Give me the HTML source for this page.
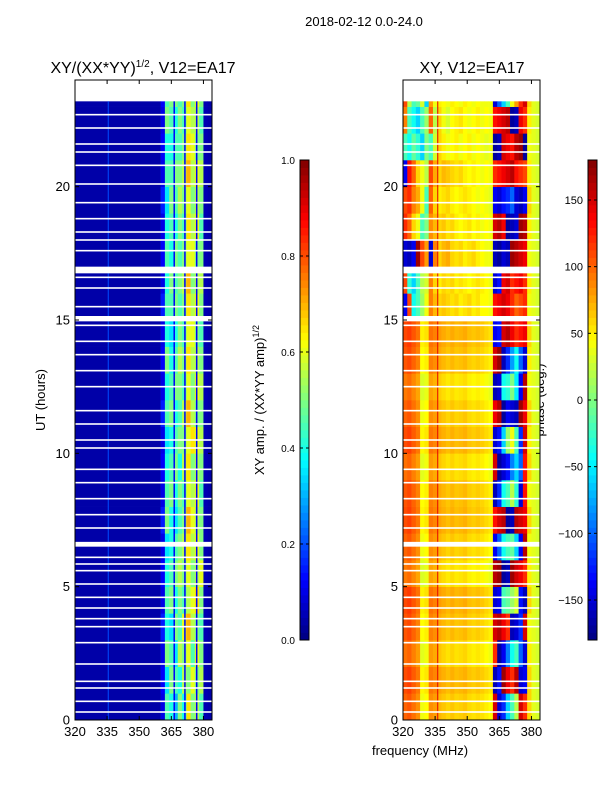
<!DOCTYPE html>
<html><head><meta charset="utf-8"><style>
body{margin:0;background:#fff;}
svg{display:block;font-family:"Liberation Sans",sans-serif;}
</style></head><body>
<svg id="c" width="600" height="800" xmlns="http://www.w3.org/2000/svg">
<text x="364" y="26" font-size="13" text-anchor="middle">2018-02-12 0.0-24.0</text>
<text x="143" y="73" font-size="16" text-anchor="middle">XY/(XX*YY)<tspan font-size="10" dy="-6">1/2</tspan><tspan dy="6">, V12=EA17</tspan></text>
<text x="472" y="73" font-size="16" text-anchor="middle">XY, V12=EA17</text>
<text x="420" y="755" font-size="13" text-anchor="middle">frequency (MHz)</text>
<text x="45" y="400" font-size="13" text-anchor="middle" transform="rotate(-90 45 400)">UT (hours)</text>
<text x="264" y="400" font-size="13" text-anchor="middle" transform="rotate(-90 264 400)">XY amp. / (XX*YY amp)<tspan font-size="9" dy="-5">1/2</tspan></text>
<text x="544" y="400" font-size="13" text-anchor="middle" transform="rotate(-90 544 400)">phase (deg.)</text>
<g id="amp"></g>
<g id="ph"></g>
<g id="ax"></g>
</svg>
<script>
const freqTicks=[320,335,350,365,380];
const hourTicks=[0,5,10,15,20];
const ampTicks=[0.0,0.2,0.4,0.6,0.8,1.0];
const phaseTicks=[-150,-100,-50,0,50,100,150];
const bandFreqs=[360,362,364,366,368,370,372,374,376,378,380,382];
const ampBackground=0.04;
const ampBand=[
[0.1,0.45,0.4,0.3,0.5,0.4,0.65,0.5,0.55,0.45,0.05,0.04],
[0.12,0.35,0.5,0.45,0.4,0.55,0.5,0.6,0.5,0.55,0.05,0.04],
[0.1,0.5,0.45,0.35,0.55,0.5,0.6,0.45,0.6,0.5,0.05,0.04],
[0.15,0.4,0.35,0.5,0.45,0.6,0.7,0.55,0.5,0.45,0.05,0.04],
[0.1,0.45,0.5,0.4,0.5,0.45,0.55,0.6,0.65,0.5,0.05,0.04],
[0.12,0.4,0.45,0.5,0.55,0.5,0.6,0.5,0.55,0.6,0.05,0.04],
[0.1,0.35,0.4,0.45,0.5,0.55,0.65,0.55,0.6,0.5,0.05,0.04],
[0.15,0.5,0.4,0.35,0.45,0.5,0.7,0.6,0.55,0.5,0.05,0.04],
[0.1,0.45,0.5,0.4,0.5,0.45,0.6,0.55,0.6,0.45,0.05,0.04],
[0.12,0.4,0.45,0.5,0.4,0.55,0.65,0.5,0.55,0.5,0.05,0.04],
[0.1,0.35,0.4,0.45,0.5,0.5,0.6,0.65,0.6,0.55,0.05,0.04],
[0.15,0.45,0.5,0.4,0.45,0.55,0.7,0.55,0.5,0.5,0.05,0.04],
[0.1,0.4,0.45,0.5,0.5,0.45,0.6,0.5,0.6,0.55,0.05,0.04],
[0.12,0.5,0.4,0.45,0.55,0.5,0.65,0.55,0.55,0.5,0.05,0.04],
[0.1,0.4,0.35,0.4,0.5,0.45,0.6,0.6,0.5,0.45,0.05,0.04],
[0.15,0.45,0.45,0.5,0.45,0.5,0.65,0.55,0.6,0.5,0.05,0.04],
[0.1,0.4,0.5,0.45,0.5,0.55,0.7,0.5,0.55,0.55,0.05,0.04],
[0.12,0.45,0.4,0.5,0.45,0.5,0.6,0.6,0.5,0.5,0.05,0.04],
[0.1,0.4,0.45,0.4,0.5,0.45,0.65,0.55,0.6,0.45,0.05,0.04],
[0.15,0.35,0.5,0.45,0.55,0.5,0.6,0.5,0.55,0.5,0.05,0.04],
[0.1,0.45,0.45,0.5,0.5,0.55,0.7,0.55,0.6,0.55,0.05,0.04],
[0.12,0.4,0.4,0.45,0.45,0.5,0.65,0.6,0.5,0.5,0.05,0.04],
[0.1,0.5,0.45,0.4,0.5,0.45,0.6,0.55,0.55,0.45,0.05,0.04],
[0.12,0.45,0.5,0.5,0.45,0.5,0.65,0.5,0.6,0.5,0.05,0.04]];
const phaseFreqs=[320,322,324,326,328,330,332,334,336,338,340,342,344,346,348,350,352,354,356,358,360,362,364,366,368,370,372,374,376,378,380,382];
const phaseLowProfile=[100,105,95,85,40,45,85,80,70,65,60,65,60,62,65,58,55,58,55,50,45];
const phaseLowShift=[0,8,-5,5,10,-8,0,8,5,-5,8,0,-8,5,10];
const phaseTopLeft=[
[-140,110,-40,-20,10,40,90,70,60,65,60,55,60,50,55,60,50,55,45,45,40],
[110,-30,-60,-20,20,30,90,60,50,60,55,60,50,55,50,45,50,55,50,45,40],
[-150,-160,-140,170,110,80,-150,90,60,70,75,60,55,60,50,55,60,50,45,40,40],
[120,100,60,40,-20,0,85,70,60,65,55,60,50,45,50,55,45,50,40,45,40],
[110,120,90,75,40,-20,100,60,50,55,60,50,45,50,55,50,45,40,45,40,35],
[-140,130,100,60,40,20,110,75,60,70,65,60,55,60,50,45,50,45,40,45,40],
[-20,-40,-10,-30,-60,0,-20,30,60,50,40,45,50,40,45,50,40,45,40,35,40],
[90,-20,-40,-60,-20,10,100,20,60,40,30,45,50,55,45,40,45,50,40,45,40],
[110,20,-20,-10,30,-60,80,40,50,45,40,50,45,40,50,45,40,45,40,40,40]];
const phaseTail=[35,30];
const phaseBand=[
[150,-150,-120,-60,-20,20,150,120,60],
[-160,-130,170,140,120,160,-150,-140,60],
[120,-170,-140,-90,-40,-20,-100,-150,50],
[150,160,140,120,-160,-150,-120,150,40],
[-150,-140,-20,-10,10,30,-130,-160,60],
[160,170,-170,-160,170,150,140,120,50],
[-140,-100,-40,-20,-10,-60,-140,160,40],
[130,150,160,-170,-160,160,150,140,60],
[-160,-120,-40,-20,20,-30,-150,130,40],
[150,-170,-150,-130,-90,-60,-100,130,60],
[-150,-130,-60,10,40,-20,-120,150,50],
[140,160,-170,-140,-150,-160,170,140,60],
[-160,-150,-40,-30,0,-50,-140,160,40],
[150,170,-160,-120,-80,-40,-100,-150,50],
[-140,-130,150,160,140,120,130,140,60],
[130,140,150,140,120,100,110,120,40],
[-150,-130,140,150,120,130,140,120,50],
[-160,-170,-150,-160,170,160,150,140,40],
[150,160,140,-170,-160,-150,170,160,50],
[-140,-150,-130,-120,-100,-150,-160,-140,60],
[120,130,140,150,160,130,120,110,50],
[-170,-160,150,140,130,160,170,-170,40],
[130,140,150,160,-170,-160,140,120,50],
[-150,-100,-60,-20,40,80,120,150,60]];
const dataEndHour=23.2;
const gapHours=[0.3,0.7,1.2,1.45,2.1,2.9,3.5,3.8,4.2,4.6,5.1,5.6,5.85,6.1,7.2,7.7,8.3,8.9,9.4,10.2,10.5,11.1,11.6,12.5,13.1,13.7,14.2,14.8,15.5,16.2,16.6,17.6,18.0,18.3,18.8,19.4,20.1,20.8,21.3,21.6,22.2,22.7];
const wideGaps=[[6.5,6.68],[14.95,15.15],[16.75,17.0]];

const NS="http://www.w3.org/2000/svg";
function jet(t){t=Math.max(0,Math.min(1,t));const c=v=>Math.round(255*Math.max(0,Math.min(1,v)));
return `rgb(${c(1.5-Math.abs(4*t-3))},${c(1.5-Math.abs(4*t-2))},${c(1.5-Math.abs(4*t-1))})`;}
function mk(tag,attrs,parent){const e=document.createElementNS(NS,tag);for(const k in attrs)e.setAttribute(k,attrs[k]);parent.appendChild(e);return e;}
const P=[{x0:75},{x0:403}];const W=137,Y0=720,H=640;
function xs(p,f){return p.x0+(f-320)*W/64;}
function ys(h){return Y0-h*H/24;}
const ampG=document.getElementById('amp'),phG=document.getElementById('ph'),axG=document.getElementById('ax');
function cell(g,p,f0,f1,h0,h1,col,name){const r=mk('rect',{x:xs(p,f0),y:ys(h1),width:xs(p,f1)-xs(p,f0)+0.3,height:ys(h0)-ys(h1)+0.3,fill:col},g);

}
for(let r=0;r<24;r++){const h0=r,h1=Math.min(r+1,dataEndHour);
cell(ampG,P[0],320,360,h0,h1,jet(ampBackground),'amp-background-cell');
for(let c=0;c<bandFreqs.length;c++)cell(ampG,P[0],bandFreqs[c],bandFreqs[c]+2,h0,h1,jet(ampBand[r][c]),'amp-cell');}
const pn=v=>(v+180)/360;
for(let r=0;r<24;r++){const h0=r,h1=Math.min(r+1,dataEndHour);
let left=r<15?phaseLowProfile.map(v=>v+phaseLowShift[r]):phaseTopLeft[r-15];
const row=left.concat(phaseBand[r],phaseTail);
for(let c=0;c<phaseFreqs.length;c++)cell(phG,P[1],phaseFreqs[c],phaseFreqs[c]+2,h0,h1,jet(pn(row[c])),'phase-cell');}
mk('rect',{x:xs(P[0],335.3),y:ys(dataEndHour),width:1,height:ys(0)-ys(dataEndHour),fill:jet(0.2)},ampG);
mk('rect',{x:xs(P[1],336),y:ys(dataEndHour),width:1,height:ys(0)-ys(dataEndHour),fill:jet(0.9)},phG);
for(const f of [366,371,376.5]){const l=mk('rect',{x:xs(P[0],f),y:ys(dataEndHour),width:1.5,height:ys(0)-ys(dataEndHour),fill:jet(0.12)},ampG);
}
for(const p of P){for(const g of gapHours){const r=mk('rect',{x:p.x0,y:ys(g)-0.8,width:W,height:1.6,fill:'#fff'},axG);

}
for(const g of wideGaps){const r=mk('rect',{x:p.x0,y:ys(g[1]),width:W,height:ys(g[0])-ys(g[1]),fill:'#fff'},axG);

}}
P.forEach((p,i)=>{const f=mk('rect',{x:p.x0,y:80,width:W,height:H,fill:'none',stroke:'#000','stroke-width':1},axG);


for(const t of freqTicks){const x=xs(p,t);mk('line',{x1:x,x2:x,y1:720,y2:716,stroke:'#000'},axG);mk('line',{x1:x,x2:x,y1:80,y2:84,stroke:'#000'},axG);
const l=mk('text',{x:x,y:736,'font-size':13,'text-anchor':'middle'},axG);l.textContent=t;

}
for(const t of hourTicks){const y=ys(t);mk('line',{x1:p.x0,x2:p.x0+4,y1:y,y2:y,stroke:'#000'},axG);mk('line',{x1:p.x0+W,x2:p.x0+W-4,y1:y,y2:y,stroke:'#000'},axG);
const l=mk('text',{x:p.x0-5,y:y+4.5,'font-size':13,'text-anchor':'end'},axG);l.textContent=t;

}});
function cbar(x,ticks,lo,hi,name,fmt){const g=mk('g',{},axG);


const n=64;for(let i=0;i<n;i++)mk('rect',{x:x,y:640-(i+1)*480/n,width:9,height:480/n+0.4,fill:jet((i+0.5)/n)},g);
mk('rect',{x:x,y:160,width:9,height:480,fill:'none',stroke:'#000'},g);
for(const t of ticks){const y=640-(t-lo)/(hi-lo)*480;mk('line',{x1:x,x2:x+3,y1:y,y2:y,stroke:'#000'},g);mk('line',{x1:x+9,x2:x+6,y1:y,y2:y,stroke:'#000'},g);
const l=mk('text',{x:x-5,y:y+4,'font-size':fmt?10:11,'text-anchor':'end'},g);l.textContent=fmt?t.toFixed(1):(t<0?'\u2212'+(-t):t);

}}
cbar(300,ampTicks,0,1,'amp-colorbar',true);
cbar(588,phaseTicks,-180,180,'phase-colorbar',false);
</script>
</body></html>
